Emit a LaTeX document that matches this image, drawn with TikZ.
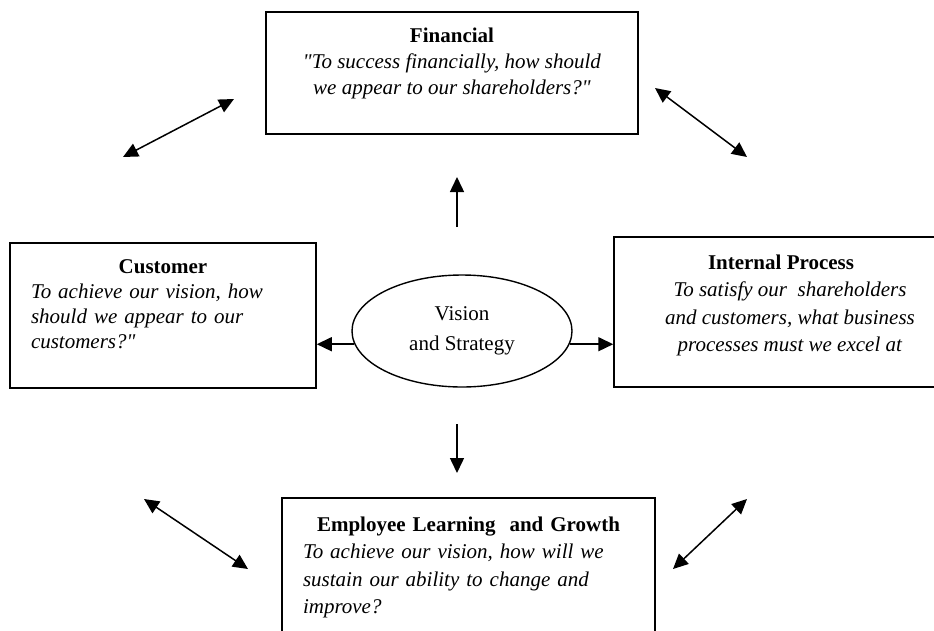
\documentclass[tikz,border=0pt]{standalone}
\usepackage{fontspec}
\setmainfont{Liberation Serif}[Ligatures=TeXOff]
\usetikzlibrary{positioning,arrows.meta,shapes.geometric}
\tikzset{
  panelBox/.style={
    rectangle,
    draw=black,
    line width=1.5pt,
    inner sep=0pt
  },
  panelText/.style={
    inner sep=0pt,
    font=\fontsize{21}{27}\selectfont
  },
  visionEllipse/.style={
    ellipse,
    draw=black,
    line width=1.4pt,
    minimum width=220pt,
    minimum height=112pt,
    inner sep=0pt,
    align=center,
    font=\fontsize{21}{30}\selectfont
  },
  arrowLine/.style={
    -{Triangle[length=15pt,width=14pt]},
    line width=1.5pt
  },
  linkLine/.style={
    {Triangle[length=15pt,width=14pt]}-{Triangle[length=15pt,width=14pt]},
    line width=1.5pt
  }
}

\begin{document}
\begin{tikzpicture}[x=1pt,y=-1pt]
        \useasboundingbox (0,0) rectangle (934,630);

        % the four perspectives
        \node[panelBox, minimum width=372pt, minimum height=122pt] (fin) at (452,73) {};
        \node[panelBox, minimum width=306pt, minimum height=145pt] (cus) at (163,315.5) {};
        \node[panelBox, minimum width=352pt, minimum height=150pt] (int) at (790,312) {};
        \node[panelBox, minimum width=373pt, minimum height=152pt] (emp) at (468.5,574) {};
        \node[visionEllipse] (vis) at (462,331) {Vision\\and Strategy};

        \node[panelText, align=center, font=\fontsize{21}{26}\selectfont, below=16pt of fin.north] (finText)
          {\textbf{Financial}\\ \textit{"To success financially, how should}\\ \textit{we appear to our shareholders?"}};
        \node[panelText, text width=264pt, font=\fontsize{21}{25}\selectfont, below=17pt of cus.north] (cusText)
          {\centering\textbf{Customer}\par\raggedright\itshape To achieve our vision, how\\ should we appear to our\\ customers?"};
        \node[panelText, align=center, font=\fontsize{21}{27.5}\selectfont, below=18pt of int.north] (intText)
          {\textbf{Internal Process}\hspace*{18pt}\\ \textit{To satisfy our\ \ shareholders}\\ \textit{and customers, what business}\\ \textit{processes must we excel at}};
        \node[panelText, text width=331pt, font=\fontsize{21}{27.5}\selectfont, below=19pt of emp.north] (empText)
          {\centering\textbf{Employee Learning\ \ and Growth}\par\raggedright\itshape To achieve our vision, how will we\\ sustain our ability to change and\\ improve?};

        % free arrow ends
        \coordinate (upFrom) at (457,227);
        \coordinate (upTo) at (457,177);
        \coordinate (downFrom) at (457,424);
        \coordinate (downTo) at (457,473);
        \coordinate (tlA) at (123,157);
        \coordinate (tlB) at (234,99);
        \coordinate (trA) at (655,88);
        \coordinate (trB) at (747,157);
        \coordinate (blA) at (144,499);
        \coordinate (blB) at (248,569);
        \coordinate (brA) at (747,499);
        \coordinate (brB) at (673,569);

        \draw[arrowLine] (upFrom) -- (upTo);
        \draw[arrowLine] (downFrom) -- (downTo);
        \draw[arrowLine] (vis.187) -- (vis.187 -| cus.east);
        \draw[arrowLine] (vis.353) -- (vis.353 -| int.west);

        \draw[linkLine] (tlA) -- (tlB);
        \draw[linkLine] (trA) -- (trB);
        \draw[linkLine] (blA) -- (blB);
        \draw[linkLine] (brA) -- (brB);
    \end{tikzpicture}
\end{document}
